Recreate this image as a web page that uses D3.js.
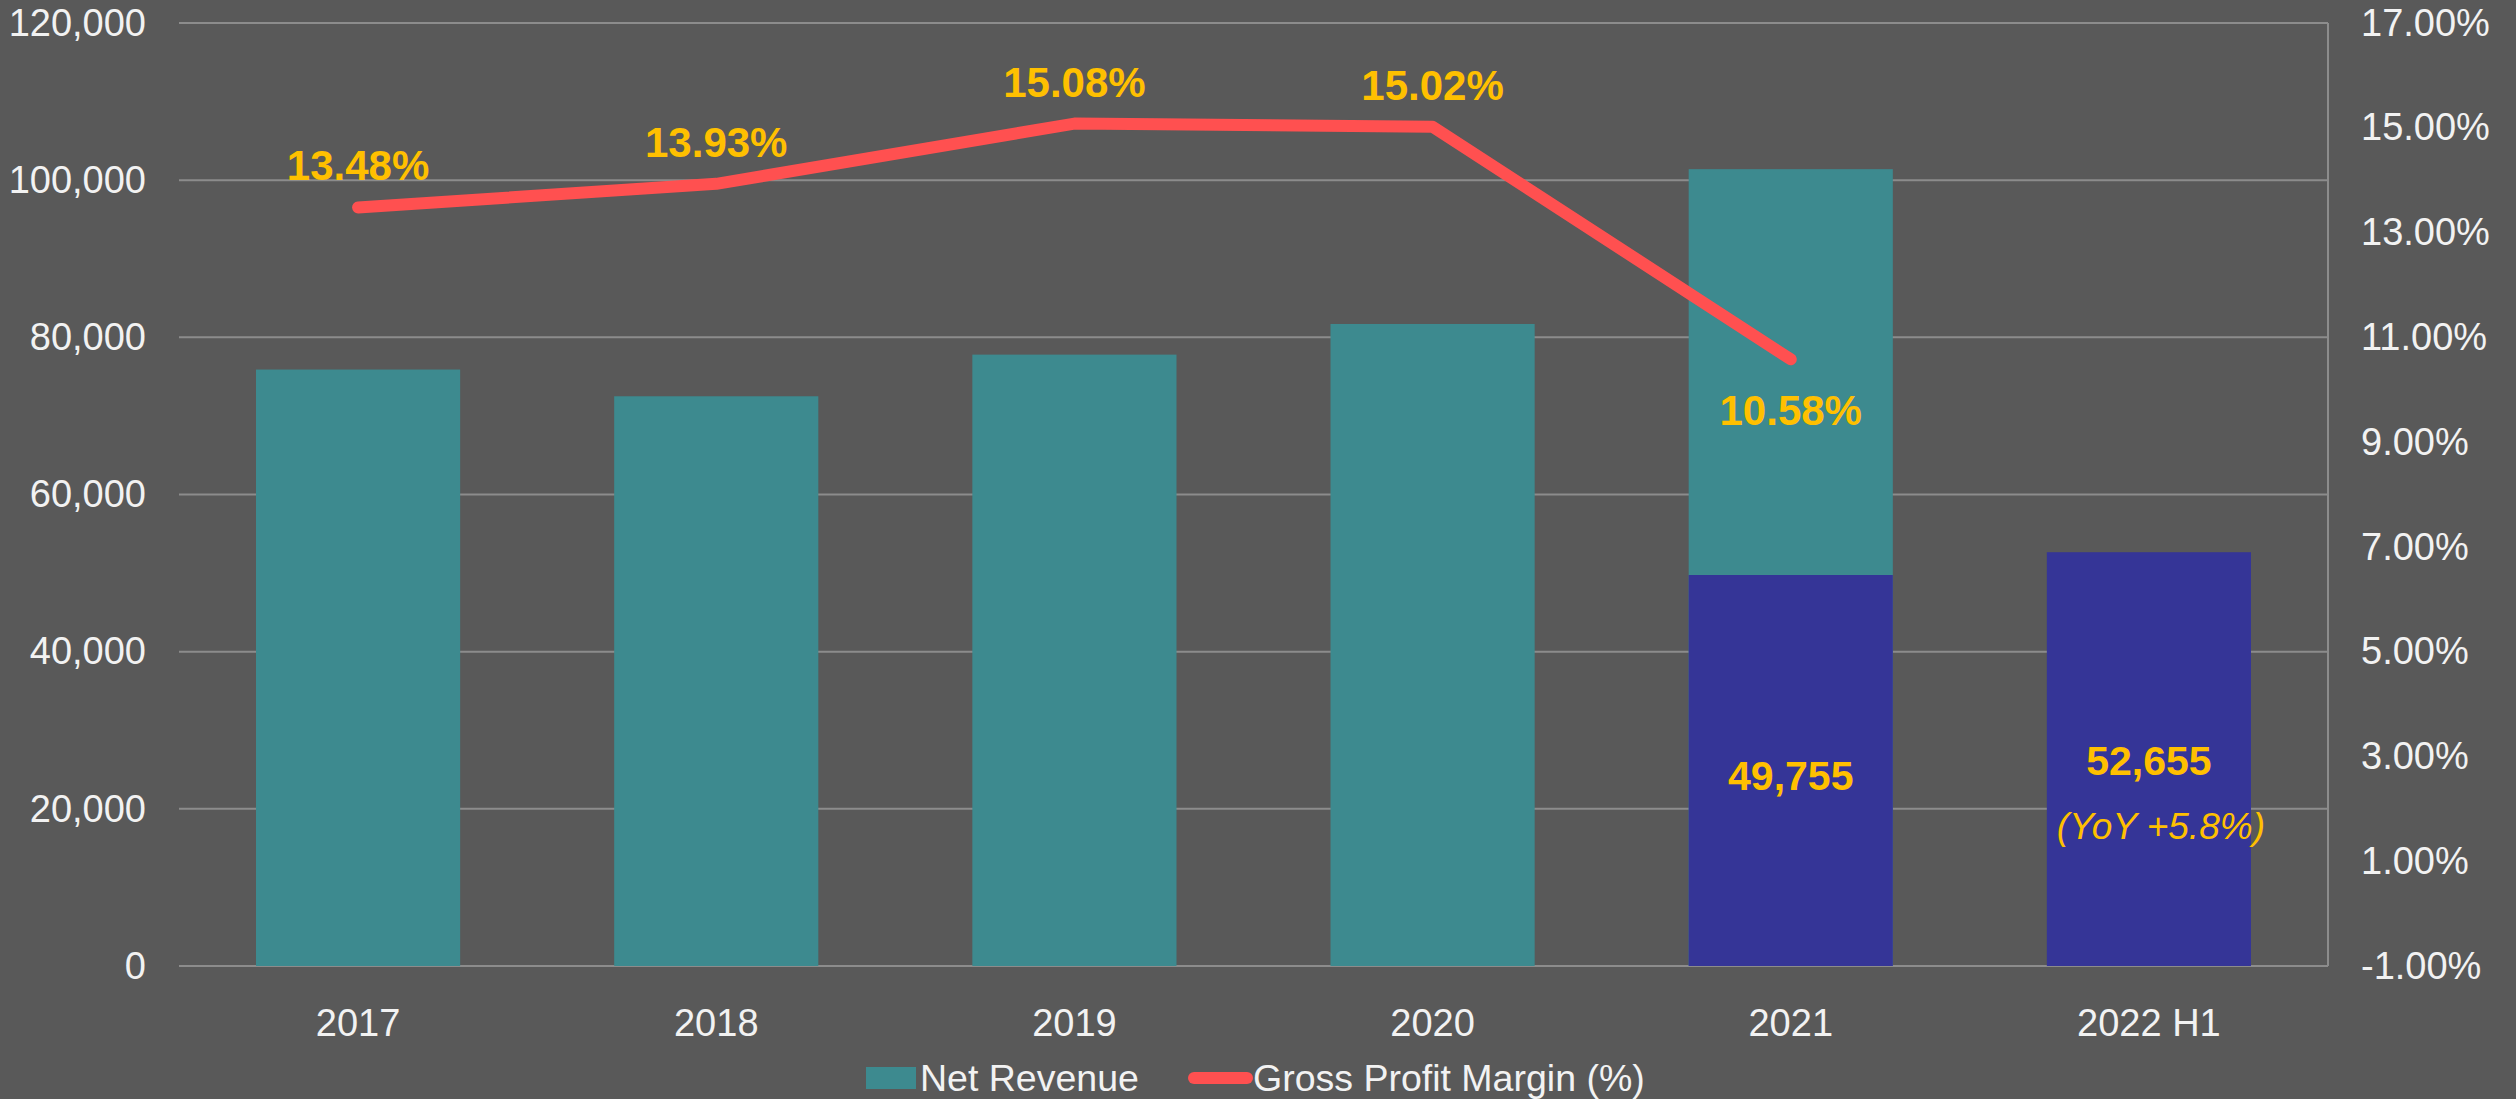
<!DOCTYPE html>
<html>
<head>
<meta charset="utf-8">
<script src="https://cdn.jsdelivr.net/npm/d3@7"></script>
<style>
  html, body { margin: 0; padding: 0; background: #595959; }
  svg { display: block; font-family: "Liberation Sans", Arial, sans-serif; }
</style>
</head>
<body>
<div id="chart"></div>
<script>
// Chart data
const categories = ["2017", "2018", "2019", "2020", "2021", "2022 H1"];
const netRevenue = [75900, 72500, 77800, 81700, 101400, null];
const firstHalfRevenue = [null, null, null, null, 49755, 52655];
const grossMargin = [13.48, 13.93, 15.08, 15.02, 10.58, null];
const leftTicks = [0, 20000, 40000, 60000, 80000, 100000, 120000];
const rightTicks = [-1, 1, 3, 5, 7, 9, 11, 13, 15, 17];
const yoyNote = "(YoY +5.8%)";

const width = 2516, height = 1099;
const margin = { top: 23, right: 188, bottom: 133, left: 179 };

const svg = d3.select("#chart")
  .append("svg")
  .attr("width", width)
  .attr("height", height);

svg.append("rect")
  .attr("width", width)
  .attr("height", height)
  .attr("fill", "#595959");

const x = d3.scaleBand()
  .domain(categories)
  .range([margin.left, width - margin.right]);

const y = d3.scaleLinear()
  .domain([0, 120000])
  .range([height - margin.bottom, margin.top]);

const y2 = d3.scaleLinear()
  .domain([-1, 17])
  .range([height - margin.bottom, margin.top]);

const gridColor = "#8c8c8c";
const textColor = "#f2f2f2";
const labelColor = "#ffc000";
const tickFont = 38;

// Gridlines
svg.append("g")
  .selectAll("line")
  .data(leftTicks)
  .join("line")
  .attr("x1", margin.left)
  .attr("x2", width - margin.right)
  .attr("y1", d => y(d))
  .attr("y2", d => y(d))
  .attr("stroke", gridColor)
  .attr("stroke-width", 2);

// Right axis line
svg.append("line")
  .attr("x1", width - margin.right)
  .attr("x2", width - margin.right)
  .attr("y1", y2(17))
  .attr("y2", y2(-1))
  .attr("stroke", gridColor)
  .attr("stroke-width", 2);

// Left axis
const leftAxis = svg.append("g")
  .attr("transform", `translate(${margin.left},0)`)
  .call(d3.axisLeft(y).tickValues(leftTicks).tickFormat(d3.format(",")).tickSize(0).tickPadding(33));
leftAxis.select(".domain").remove();
leftAxis.selectAll("text")
  .attr("fill", textColor)
  .attr("font-size", tickFont)
  .attr("font-family", "Liberation Sans, Arial, sans-serif");

// Right axis
const rightAxis = svg.append("g")
  .attr("transform", `translate(${width - margin.right},0)`)
  .call(d3.axisRight(y2).tickValues(rightTicks).tickFormat(d => d.toFixed(2) + "%").tickSize(0).tickPadding(33));
rightAxis.select(".domain").remove();
rightAxis.selectAll("text")
  .attr("fill", textColor)
  .attr("font-size", tickFont)
  .attr("font-family", "Liberation Sans, Arial, sans-serif");

// Bottom axis
const bottomAxis = svg.append("g")
  .attr("transform", `translate(0,${height - margin.bottom})`)
  .call(d3.axisBottom(x).tickSize(0).tickPadding(43));
bottomAxis.select(".domain").remove();
bottomAxis.selectAll("text")
  .attr("fill", textColor)
  .attr("font-size", tickFont)
  .attr("font-family", "Liberation Sans, Arial, sans-serif");

// Bars
const barWidth = x.bandwidth() * 0.57;
const barX = c => x(c) + (x.bandwidth() - barWidth) / 2;

svg.append("g")
  .selectAll("rect")
  .data(categories.map((c, i) => ({ c, v: netRevenue[i] })).filter(d => d.v != null))
  .join("rect")
  .attr("x", d => barX(d.c))
  .attr("y", d => y(d.v))
  .attr("width", barWidth)
  .attr("height", d => y(0) - y(d.v))
  .attr("fill", "#3d8a8f");

const halfData = categories.map((c, i) => ({ c, v: firstHalfRevenue[i] })).filter(d => d.v != null);

svg.append("g")
  .selectAll("rect")
  .data(halfData)
  .join("rect")
  .attr("x", d => barX(d.c))
  .attr("y", d => y(d.v))
  .attr("width", barWidth)
  .attr("height", d => y(0) - y(d.v))
  .attr("fill", "#353597");

// Bar value labels
svg.append("g")
  .selectAll("text")
  .data(halfData)
  .join("text")
  .attr("x", d => x(d.c) + x.bandwidth() / 2)
  .attr("y", (d, i) => i === 0 ? 790 : 775)
  .attr("text-anchor", "middle")
  .attr("font-size", 41)
  .attr("font-weight", "bold")
  .attr("fill", labelColor)
  .text(d => d3.format(",")(d.v));

svg.append("text")
  .attr("x", x("2022 H1") + x.bandwidth() / 2 + 12)
  .attr("y", 839)
  .attr("text-anchor", "middle")
  .attr("font-size", 37)
  .attr("font-style", "italic")
  .attr("fill", labelColor)
  .text(yoyNote);

// Margin line
const lineData = categories.map((c, i) => ({ c, v: grossMargin[i] })).filter(d => d.v != null);

svg.append("path")
  .datum(lineData)
  .attr("fill", "none")
  .attr("stroke", "#ff5050")
  .attr("stroke-width", 12)
  .attr("stroke-linecap", "round")
  .attr("stroke-linejoin", "round")
  .attr("d", d3.line().x(d => x(d.c) + x.bandwidth() / 2).y(d => y2(d.v)));

svg.append("g")
  .selectAll("text")
  .data(lineData)
  .join("text")
  .attr("x", d => x(d.c) + x.bandwidth() / 2)
  .attr("y", (d, i) => i === lineData.length - 1 ? y2(d.v) + 66 : y2(d.v) - 27)
  .attr("text-anchor", "middle")
  .attr("font-size", 42)
  .attr("font-weight", "bold")
  .attr("fill", labelColor)
  .text(d => d.v.toFixed(2) + "%");

// Legend
const legend = svg.append("g");
legend.append("rect")
  .attr("x", 866)
  .attr("y", 1067)
  .attr("width", 50)
  .attr("height", 22)
  .attr("fill", "#3d8a8f");
legend.append("text")
  .attr("x", 920)
  .attr("y", 1091)
  .attr("font-size", 37.5)
  .attr("fill", textColor)
  .text("Net Revenue");
legend.append("line")
  .attr("x1", 1194)
  .attr("x2", 1247)
  .attr("y1", 1078)
  .attr("y2", 1078)
  .attr("stroke", "#ff5050")
  .attr("stroke-width", 12)
  .attr("stroke-linecap", "round");
legend.append("text")
  .attr("x", 1253)
  .attr("y", 1091)
  .attr("font-size", 37.5)
  .attr("fill", textColor)
  .text("Gross Profit Margin (%)");
</script>
</body>
</html>
